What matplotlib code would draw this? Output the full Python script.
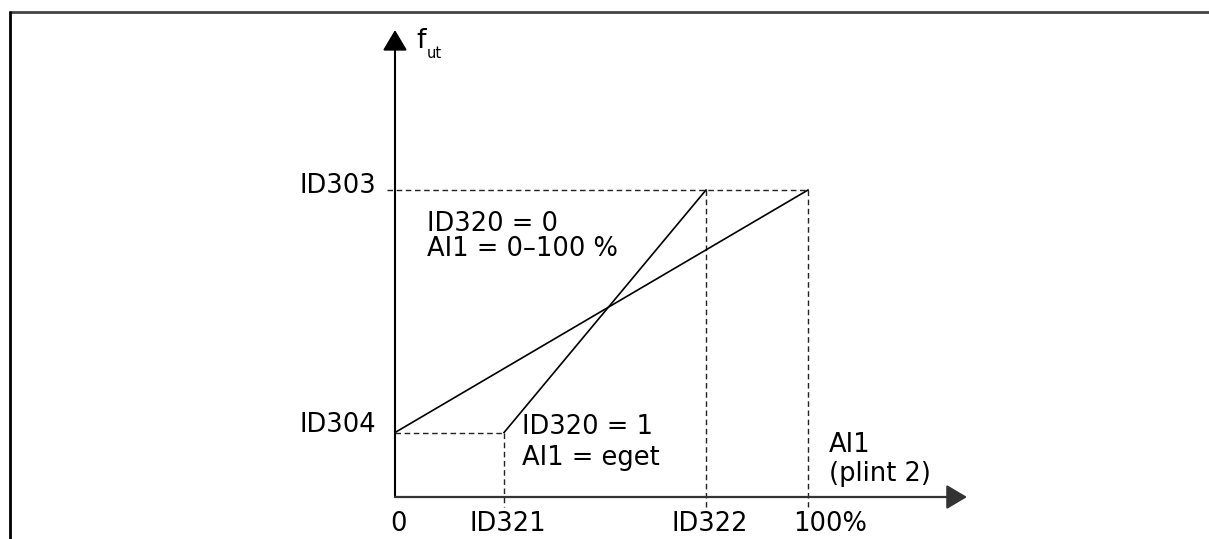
import matplotlib
matplotlib.use("Agg")
import matplotlib.pyplot as plt

# ================= DATA =================
# x: AI1 signal in % (0..100), y: output frequency (ID303 = 100 %)
ai1_range = [0, 100]          # ID320 = 0 -> full 0-100 % range
ai1_custom = [26.4, 75.3]     # ID320 = 1 -> ID321 .. ID322
f_min = 21                    # ID304 (min frequency)
f_max = 100                   # ID303 (max frequency)

x_ticks = [0, 26.4, 75.3, 100]
x_labels = ["0", "ID321", "ID322", "100%"]
y_ticks = [f_min, f_max]
y_labels = ["ID304", "ID303"]

# ================= FIGURE =================
W, H = 1209, 539
fig = plt.figure(figsize=(W / 100, H / 100), dpi=100)
plt.rcParams['font.family'] = ['DejaVu Sans']

# pixel scale of the diagram (origin at 395,497 px)
x0_px, y0_px = 395, 497
sx = (808 - 395) / 100.0
sy = (497 - 190) / 100.0

ax = fig.add_axes([0, 0, 1, 1])
ax.set_xlim(-x0_px / sx, (W - x0_px) / sx)
ax.set_ylim(-(H - y0_px) / sy, y0_px / sy)
ax.axis('off')

# pixel overlay for frame + texts
pax = fig.add_axes([0, 0, 1, 1], zorder=3)
pax.set_xlim(0, W)
pax.set_ylim(H, 0)
pax.axis('off')
pax.patch.set_alpha(0)

# frame (top and left only)
pax.plot([9, W], [11.5, 11.5], color='#444444', lw=2.0, solid_capstyle='butt')
pax.plot([9.5, 9.5], [11, H], color='black', lw=2.0, solid_capstyle='butt')

# axes with arrows
ax.annotate('', xy=(0, 152.1), xytext=(0, 0),
            arrowprops=dict(arrowstyle='-|>,head_length=0.42,head_width=0.25',
                            mutation_scale=30, lw=1.5, color='black',
                            shrinkA=0, shrinkB=0))
ax.annotate('', xy=(138.5, 0), xytext=(0, 0),
            arrowprops=dict(arrowstyle='-|>,head_length=0.42,head_width=0.25',
                            mutation_scale=30, lw=1.6, color='#333333',
                            shrinkA=0, shrinkB=0))

# guide lines (dashed)
dash = dict(color='#222222', lw=1.0, linestyle=(0, (4, 2.6)))
below = -3.3
ax.plot([-2, ai1_range[1]], [f_max, f_max], **dash)
ax.plot([ai1_custom[1], ai1_custom[1]], [f_max, below], **dash)
ax.plot([ai1_range[1], ai1_range[1]], [f_max, below], **dash)
ax.plot([0, ai1_custom[0]], [f_min, f_min], **dash)
ax.plot([ai1_custom[0], ai1_custom[0]], [f_min, below], **dash)

# characteristic lines
ax.plot(ai1_range, [f_min, f_max], color='black', lw=1.2)
ax.plot(ai1_custom, [f_min, f_max], color='black', lw=1.2)

# ================= TEXT =================
fs = 18.5
x_label_px = [398, 508, 710, 830]
for lab, xp in zip(x_labels, x_label_px):
    pax.text(xp, 524, lab, fontsize=fs, ha='center', va='center')
y_label_py = [425, 186]
for lab, yp in zip(y_labels, y_label_py):
    pax.text(376, yp, lab, fontsize=fs, ha='right', va='center')

pax.text(416, 48, "f", fontsize=fs + 1, ha='left', va='baseline')
pax.text(427, 58, "ut", fontsize=10.5, ha='left', va='baseline')

pax.text(427, 231, "ID320 = 0", fontsize=fs, ha='left', va='baseline')
pax.text(427, 256, "AI1 = 0\u2013100 %", fontsize=fs, ha='left', va='baseline')
pax.text(522, 434, "ID320 = 1", fontsize=fs, ha='left', va='baseline')
pax.text(522, 465, "AI1 = eget", fontsize=fs, ha='left', va='baseline')
pax.text(829, 452, "AI1", fontsize=fs, ha='left', va='baseline')
pax.text(829, 481, "(plint 2)", fontsize=fs, ha='left', va='baseline')

fig.savefig("out.png", dpi=100, facecolor='white')
